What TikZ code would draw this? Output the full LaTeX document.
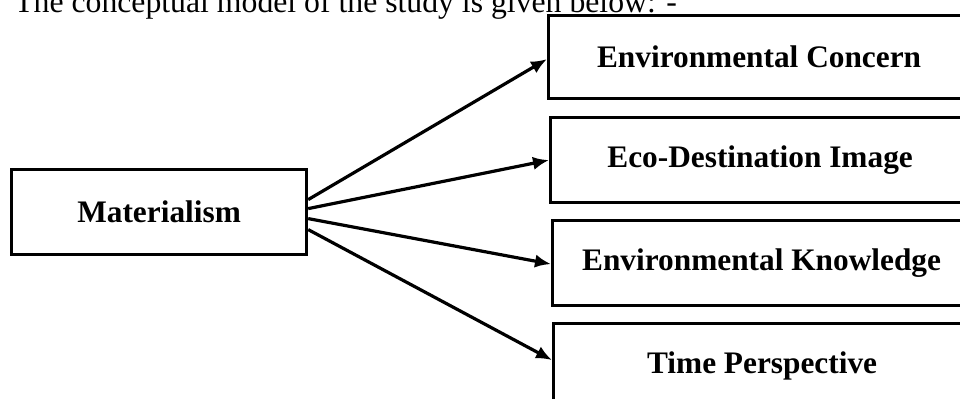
\documentclass[tikz,border=0pt]{standalone}
\usepackage{fontspec}
\setmainfont{Liberation Serif}
\usetikzlibrary{arrows.meta,calc}
\begin{document}
\begin{tikzpicture}[x=0.75pt,y=-0.75pt,
  varbox/.style={draw=black,line width=2.4pt,fill=white,inner sep=0pt,
    font=\fontsize{23.5}{28}\selectfont\bfseries,anchor=north west},
  link/.style={line width=2.4pt,-{Latex[length=12pt,width=10pt]}}]
\useasboundingbox (0,0) rectangle (960,399);
\clip (0,0) rectangle (960,399);
\node[anchor=base west,inner sep=0pt,font=\fontsize{23.8}{28}\selectfont] (title) at (14,12.5) {The conceptual model of the study is given below: -};
\node[varbox,minimum width=295*0.75pt,minimum height=85*0.75pt] (mat) at (10,168) {Materialism};
\node[varbox,minimum width=421*0.75pt,minimum height=83*0.75pt] (b1) at (547,14) {Environmental Concern};
\node[varbox,minimum width=419*0.75pt,minimum height=85*0.75pt] (b2) at (549,116) {Eco-Destination Image};
\node[varbox,minimum width=418*0.75pt,minimum height=85*0.75pt] (b3) at (551,219) {Environmental Knowledge};
\node[varbox,minimum width=417*0.75pt,minimum height=85*0.75pt] (b4) at (552,322) {Time Perspective};
\draw[link] ($(mat.east)+(0,-12.5)$) -- ($(b1.west)+(0,2)$);
\draw[link] ($(mat.east)+(0,-3.5)$) -- (b2.west);
\draw[link] ($(mat.east)+(0,6.5)$) -- ($(b3.west)+(0,1)$);
\draw[link] ($(mat.east)+(0,17.5)$) -- ($(b4.west)+(0,-6)$);
\end{tikzpicture}
\end{document}
